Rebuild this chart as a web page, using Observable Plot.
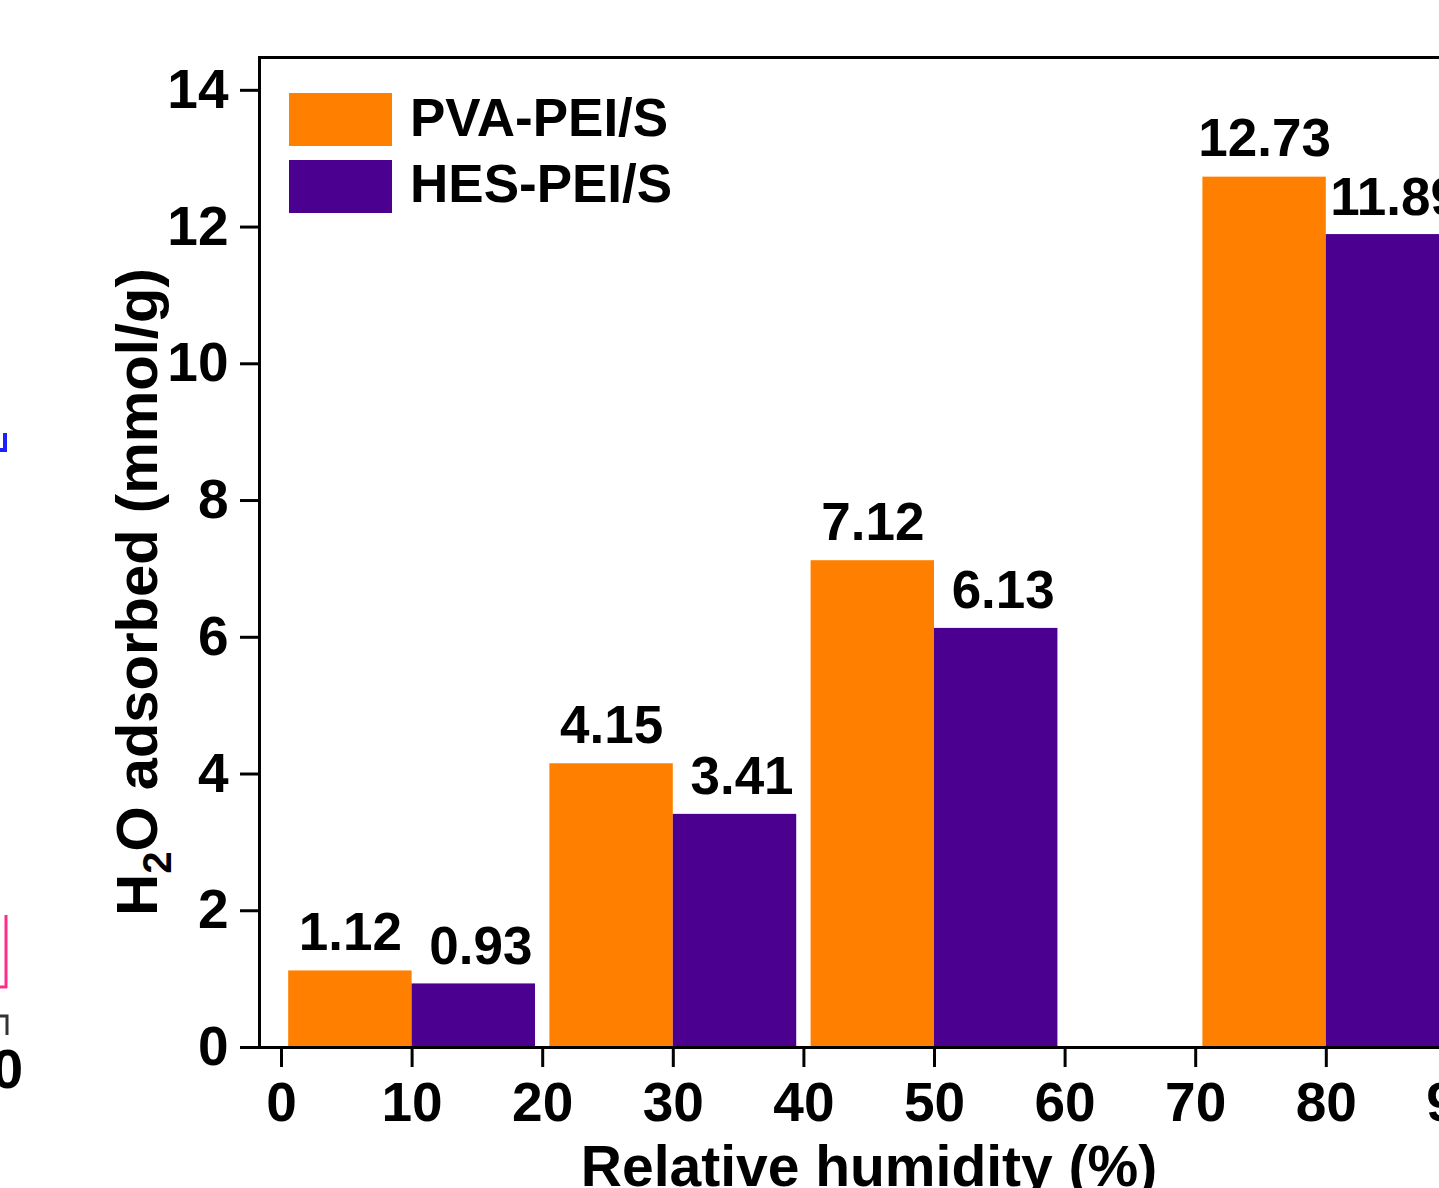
<!DOCTYPE html>
<html><head><meta charset="utf-8">
<script src="https://cdn.jsdelivr.net/npm/d3@7"></script>
<script src="https://cdn.jsdelivr.net/npm/@observablehq/plot@0.6"></script>
<style>
html,body{margin:0;padding:0;overflow:hidden;background:#fff;width:1439px;height:1188px}
#wrap{position:relative;width:1439px;height:1188px;overflow:hidden;font-family:"Liberation Sans",Arial,sans-serif;font-weight:bold}
#chart{position:absolute;left:0;top:0;width:1600px;height:1240px}
#chart svg{max-width:none !important;width:1600px !important;height:1240px !important}
.legend-item{position:absolute;display:flex;align-items:center}
.legend-sw{width:103px;height:53px;margin-right:18px}
.legend-tx{font-size:53px;line-height:53px;color:#000;margin-top:-5px}
#deco{position:absolute;left:0;top:0}
</style></head><body><div id="wrap"><div id="chart"></div></div>
<script>
// ---- data ----
const humidity = [10, 30, 50, 80];
const pvaValues = [1.12, 4.15, 7.12, 12.73];
const hesValues = [0.93, 3.41, 6.13, 11.89];
const seriesNames = ["PVA-PEI/S", "HES-PEI/S"];
const seriesColors = ["#FF8000", "#4B0090"];
const xTicks = [0, 10, 20, 30, 40, 50, 60, 70, 80, 90];
const yTicks = [0, 2, 4, 6, 8, 10, 12, 14];
const xTitle = "Relative humidity (%)";
const barWidth = 9.45;

const pvaRows = humidity.map((h, i) => ({series: seriesNames[0], x1: h - barWidth, x2: h, value: pvaValues[i]}));
const hesRows = humidity.map((h, i) => ({series: seriesNames[1], x1: h, x2: h + barWidth, value: hesValues[i]}));
const rows = pvaRows.concat(hesRows);

const W = 1600, H = 1240;
const font = "Liberation Sans, Arial, sans-serif";

const plot = Plot.plot({
  width: W, height: H,
  marginLeft: 259, marginRight: 13, marginTop: 57, marginBottom: H - 1047,
  style: {fontFamily: font, fontWeight: "bold", fontSize: "54px", color: "#000", background: "transparent", overflow: "visible", maxWidth: "none"},
  x: {domain: [-22 / 13.06, 100]},
  y: {domain: [0, 14.48]},
  color: {domain: seriesNames, range: seriesColors},
  marks: [
    Plot.rectY(rows, {x1: "x1", x2: "x2", y: "value", fill: "series"}),
    Plot.text(pvaRows, {x: d => (d.x1 + d.x2) / 2, y: "value", text: d => d.value.toFixed(2), dy: -21, lineAnchor: "bottom", fontSize: 53, fontWeight: "bold", fill: "#000"}),
    Plot.text(hesRows, {x: d => (d.x1 + d.x2) / 2, y: "value", text: d => d.value.toFixed(2), dy: -20, dx: 7, lineAnchor: "bottom", fontSize: 53, fontWeight: "bold", fill: "#000"}),
    Plot.frame({stroke: "#000", strokeWidth: 3}),
    Plot.axisY({ticks: yTicks, tickSize: 19, tickPadding: 12, strokeWidth: 3, label: null, fontSize: 55, fontWeight: "bold", tickFormat: d => String(d)}),
    Plot.axisX({ticks: xTicks, tickSize: 20, tickPadding: 14, strokeWidth: 3, label: null, fontSize: 55, fontWeight: "bold", tickFormat: d => String(d)})
  ]
});
document.getElementById("chart").appendChild(plot);

// axis titles
const svg = d3.select(plot);
svg.append("text")
  .attr("x", 869).attr("y", 1186)
  .attr("text-anchor", "middle")
  .attr("font-size", 57).attr("font-weight", "bold").attr("font-family", font)
  .attr("fill", "#000")
  .text(xTitle);
const yt = svg.append("text")
  .attr("transform", "translate(157,592) rotate(-90)")
  .attr("text-anchor", "middle")
  .attr("font-size", 58).attr("font-weight", "bold").attr("font-family", font)
  .attr("fill", "#000");
yt.append("tspan").text("H");
yt.append("tspan").attr("font-size", 40).attr("dy", 14).text("2");
yt.append("tspan").attr("dy", -14).text("O adsorbed (mmol/g)");

// legend (HTML, inside the frame)
const wrap = document.getElementById("wrap");
seriesNames.forEach((name, i) => {
  const item = document.createElement("div");
  item.className = "legend-item";
  item.style.left = "289px";
  item.style.top = (93 + i * 66.5) + "px";
  const sw = document.createElement("div");
  sw.className = "legend-sw";
  sw.style.background = seriesColors[i];
  const tx = document.createElement("div");
  tx.className = "legend-tx";
  tx.textContent = name;
  item.appendChild(sw); item.appendChild(tx);
  wrap.appendChild(item);
});

// fragments of the neighbouring panel at the left edge
const deco = d3.select(wrap).append("svg").attr("id", "deco").attr("width", 40).attr("height", 1188);
deco.append("path").attr("d", "M5,433 V451 M0,450 H7").attr("stroke", "#2020ff").attr("stroke-width", 4).attr("fill", "none");
deco.append("path").attr("d", "M6,915 V988 M0,987 H7").attr("stroke", "#ff2d8a").attr("stroke-width", 3).attr("fill", "none");
deco.append("path").attr("d", "M0,1016 H7 V1035").attr("stroke", "#333").attr("stroke-width", 3).attr("fill", "none");
deco.append("text").attr("x", -8).attr("y", 1088).attr("font-size", 56).attr("font-weight", "bold").attr("font-family", font).attr("fill", "#000").text("0");
</script>
</body></html>
